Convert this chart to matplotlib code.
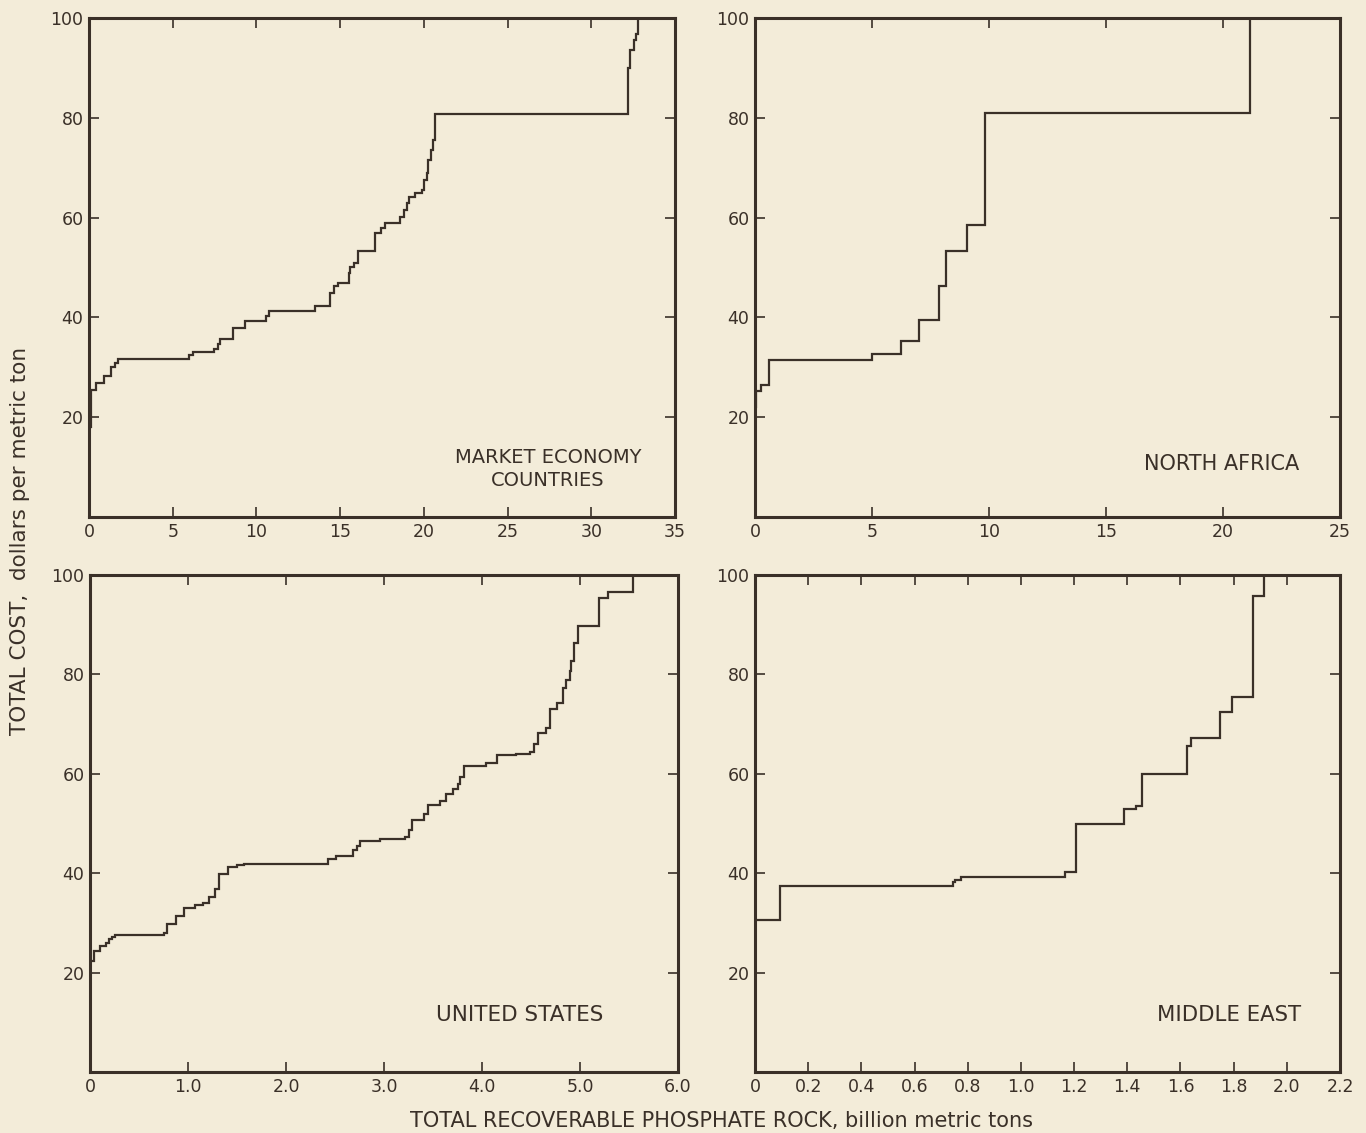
import matplotlib
matplotlib.use("Agg")
import matplotlib.pyplot as plt

# ---------------- data ----------------
me_x = [0, 0.1, 0.4, 0.87, 1.33, 1.56, 1.72, 6.0, 6.2, 7.46, 7.7, 7.85, 8.6, 9.3, 10.55, 10.75,
        13.5, 14.4, 14.65, 14.9, 15.5, 15.6, 15.85, 16.05, 17.1, 17.45, 17.7, 18.55, 18.8, 19.0,
        19.1, 19.5, 19.9, 20.0, 20.2, 20.25, 20.45, 20.55, 20.65, 32.2, 32.3, 32.55, 32.65, 32.8]
me_y = [18, 25.5, 26.8, 28.3, 30.0, 30.9, 31.6, 32.4, 33.0, 33.6, 34.6, 35.6, 37.8, 39.3, 40.2, 41.3,
        42.2, 44.9, 46.2, 46.9, 48.9, 50.2, 51.0, 53.4, 57.0, 57.9, 58.9, 60.2, 61.5, 62.9,
        64.1, 65.0, 65.5, 67.5, 69.0, 71.5, 73.5, 75.5, 80.7, 90.0, 93.5, 95.5, 96.8, 100]

na_x = [0, 0.05, 0.25, 0.6, 5.0, 6.25, 7.0, 7.85, 8.15, 9.05, 9.85, 21.15]
na_y = [22, 25.3, 26.5, 31.5, 32.7, 35.2, 39.5, 46.3, 53.3, 58.5, 80.9, 100]

us_x = [0, 0.04, 0.10, 0.16, 0.19, 0.22, 0.26, 0.75, 0.79, 0.88, 0.96, 1.07, 1.15, 1.21, 1.28, 1.32,
        1.41, 1.50, 1.57, 2.43, 2.51, 2.68, 2.72, 2.75, 2.96, 3.21, 3.25, 3.29, 3.41, 3.45, 3.57,
        3.63, 3.70, 3.76, 3.78, 3.82, 4.04, 4.15, 4.35, 4.49, 4.53, 4.57, 4.65, 4.69, 4.77, 4.83,
        4.86, 4.90, 4.91, 4.94, 4.98, 5.19, 5.29, 5.54]
us_y = [22.3, 24.3, 25.3, 26.0, 26.7, 27.2, 27.6, 28.0, 29.7, 31.3, 33.0, 33.7, 34.0, 35.3, 36.8, 39.9,
        41.2, 41.7, 41.9, 42.8, 43.5, 44.7, 45.5, 46.5, 46.8, 47.3, 48.7, 50.7, 52.0, 53.7, 54.5,
        56.0, 57.0, 57.9, 59.3, 61.5, 62.1, 63.8, 64.0, 64.3, 66.0, 68.3, 69.3, 73.0, 74.3, 77.3,
        78.8, 80.7, 82.7, 86.3, 89.7, 95.3, 96.5, 100]

mide_x = [0, 0.094, 0.745, 0.752, 0.775, 1.164, 1.207, 1.388, 1.432, 1.456, 1.624, 1.641, 1.75,
          1.793, 1.873, 1.913]
mide_y = [30.5, 37.5, 38.2, 38.7, 39.2, 40.2, 50.0, 52.9, 53.5, 59.9, 65.5, 67.3, 72.5, 75.5,
          95.7, 100]

titles = ["MARKET ECONOMY\nCOUNTRIES", "NORTH AFRICA", "UNITED STATES", "MIDDLE EAST"]
x_ticks = [[0, 5, 10, 15, 20, 25, 30, 35],
           [0, 5, 10, 15, 20, 25],
           [0, 1, 2, 3, 4, 5, 6],
           [0, 0.2, 0.4, 0.6, 0.8, 1.0, 1.2, 1.4, 1.6, 1.8, 2.0, 2.2]]
x_labels = [["0", "5", "10", "15", "20", "25", "30", "35"],
            ["0", "5", "10", "15", "20", "25"],
            ["0", "1.0", "2.0", "3.0", "4.0", "5.0", "6.0"],
            ["0", "0.2", "0.4", "0.6", "0.8", "1.0", "1.2", "1.4", "1.6", "1.8", "2.0", "2.2"]]
y_ticks = [20, 40, 60, 80, 100]
y_labels = ["20", "40", "60", "80", "100"]

series = [(me_x, me_y), (na_x, na_y), (us_x, us_y), (mide_x, mide_y)]

# ---------------- style ----------------
BG = "#f3ecd9"
INK = "#3a3028"
W, H = 1366, 1133

plt.rcParams['font.family'] = ['DejaVu Sans']
fig = plt.figure(figsize=(W / 100, H / 100), dpi=100, facecolor=BG)

boxes = [(89, 18, 675, 517), (755, 18, 1340, 517),
         (90, 575, 678, 1072), (755, 575, 1340, 1072)]
text_pos = [(0.783, 0.096), (0.798, 0.106), (0.73, 0.115), (0.81, 0.115)]
title_sizes = [14, 15, 15.5, 15.3]

for i, (l, t, r, b) in enumerate(boxes):
    ax = fig.add_axes([l / W, 1 - b / H, (r - l) / W, (b - t) / H])
    ax.set_facecolor(BG)
    xs, ys = series[i]
    ax.step(xs, ys, where='post', color=INK, lw=1.6, solid_joinstyle='miter')
    ax.set_xlim(x_ticks[i][0], x_ticks[i][-1])
    ax.set_ylim(0, 100)
    ax.set_xticks(x_ticks[i])
    ax.set_xticklabels(x_labels[i])
    ax.set_yticks(y_ticks)
    ax.set_yticklabels(y_labels)
    ax.tick_params(direction='in', length=7, width=1.2, color=INK, labelcolor=INK,
                   labelsize=12.5, top=True, right=True, pad=4)
    for s in ax.spines.values():
        s.set_linewidth(2.2)
        s.set_color(INK)
    tx, ty = text_pos[i]
    ax.text(tx, ty, titles[i], transform=ax.transAxes, ha='center', va='center',
            fontsize=title_sizes[i], color=INK, linespacing=1.25)

fig.text(20 / W, 1 - 541 / H, "TOTAL COST,  dollars per metric ton", rotation=90,
         ha='center', va='center', fontsize=15.5, color=INK)
fig.text(721 / W, 1 - 1121 / H, "TOTAL RECOVERABLE PHOSPHATE ROCK, billion metric tons",
         ha='center', va='center', fontsize=15, color=INK)

fig.savefig("out.png", dpi=100, facecolor=BG)
